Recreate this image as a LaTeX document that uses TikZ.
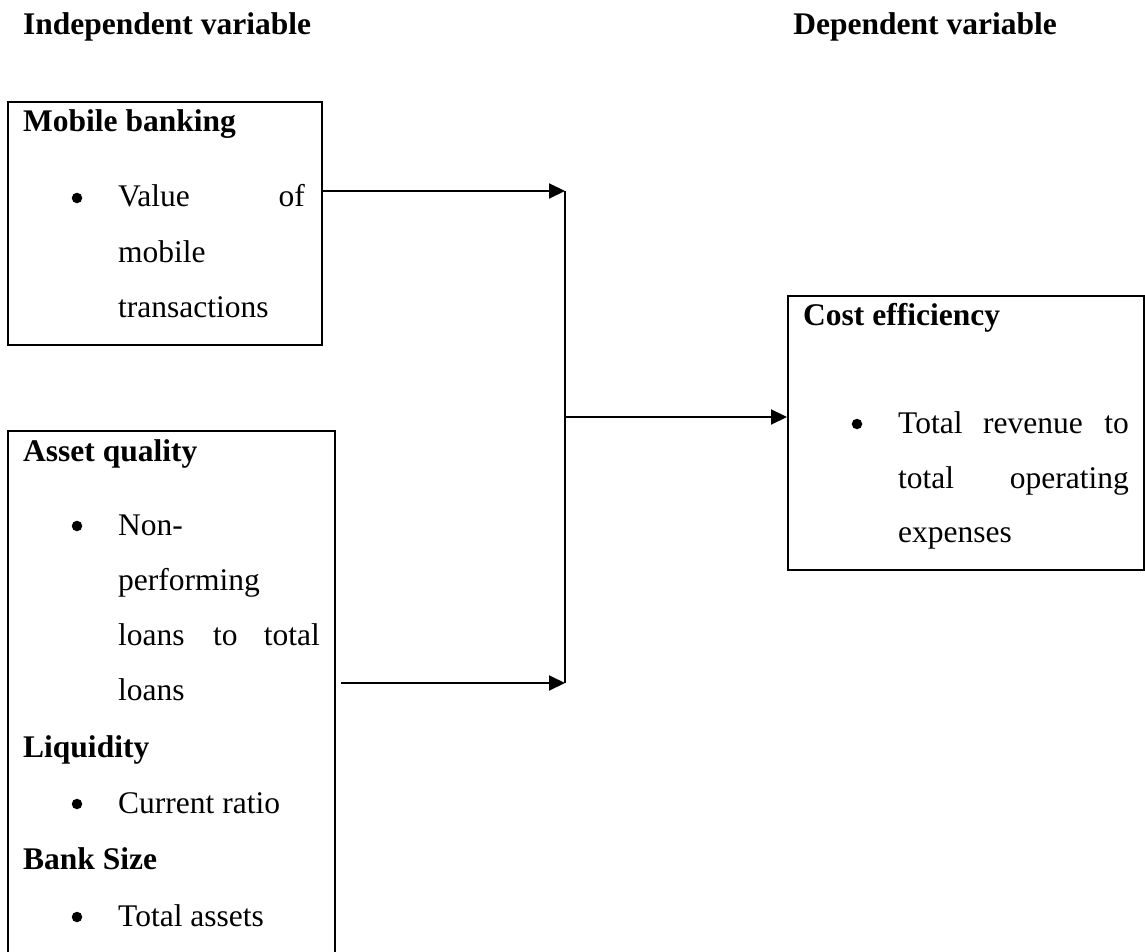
\documentclass[tikz,border=0pt]{standalone}
\usepackage{fontspec}
\setmainfont{Liberation Serif}
\usetikzlibrary{arrows.meta}
\begin{document}
\begin{tikzpicture}[x=1pt,y=-1pt,
  font=\fontsize{31.5}{38}\selectfont,
  txt/.style={inner sep=0pt, anchor=base west},
  txtr/.style={inner sep=0pt, anchor=base east},
  hd/.style={txt, font=\fontsize{31.5}{38}\selectfont\bfseries},
  bul/.style={circle, fill, inner sep=0pt, minimum size=10.5pt},
  box/.style={draw, line width=1.6pt, inner sep=0pt, anchor=north west},
  arr/.style={line width=2pt, -{Triangle[length=16pt,width=15pt]}},
  link/.style={line width=1.4pt}]
\useasboundingbox (0,0) rectangle (1145,952);
\clip (0,0) rectangle (1145,952);

% headers
\node[hd] (hi) at (23,35) {Independent variable};
\node[hd, anchor=base east] (hdp) at (1057,35) {Dependent variable};

% boxes
\node[box, minimum width=314pt, minimum height=243pt] (mb) at (7,101) {};
\node[box, minimum width=327pt, minimum height=540pt] (aq) at (7,430) {};
\node[box, minimum width=356pt, minimum height=274pt] (ce) at (787,295) {};

% box 1 text
\node[hd] (t1) at (23,132) {Mobile banking};
\node[bul] (b1) at (77,198) {};
\node[txt] (t2a) at (118,207) {Value};
\node[txtr] (t2b) at (305,207) {of};
\node[txt] (t3) at (118,262) {mobile};
\node[txt] (t4) at (118,317) {transactions};

% box 2 text
\node[hd] (s1) at (23,461) {Asset quality};
\node[bul] (b2) at (77,526) {};
\node[txt] (s2) at (118,535) {Non-};
\node[txt] (s3) at (118,590) {performing};
\node[txt] (s4a) at (118,645) {loans};
\node[txt] (s4b) at (213,645) {to};
\node[txtr] (s4c) at (320,645) {total};
\node[txt] (s5) at (118,700) {loans};
\node[hd] (s6) at (23,757) {Liquidity};
\node[bul] (b3) at (77,804) {};
\node[txt] (s7) at (118,813) {Current ratio};
\node[hd] (s8) at (23,869) {Bank Size};
\node[bul] (b4) at (77,917) {};
\node[txt] (s9) at (118,926) {Total assets};

% box 3 text
\node[hd] (c1) at (803,325) {Cost efficiency};
\node[bul] (b5) at (857,424) {};
\node[txt] (c2a) at (898,433) {Total};
\node[txt] (c2b) at (983,433) {revenue};
\node[txtr] (c2c) at (1129,433) {to};
\node[txt] (c3a) at (898,488) {total};
\node[txtr] (c3b) at (1129,488) {operating};
\node[txt] (c4) at (898,542) {expenses};

% connectors
\coordinate (j1) at (565,191);
\coordinate (j2) at (565,683);
\coordinate (jm) at (565,417);
\coordinate (a2) at ([xshift=5pt]aq.east);
\draw[arr] (mb.east |- j1) -- (j1);
\draw[arr] (a2 |- j2) -- (j2);
\draw[link] (j1) -- (j2);
\draw[arr] (jm) -- (ce.west |- jm);
\end{tikzpicture}
\end{document}
